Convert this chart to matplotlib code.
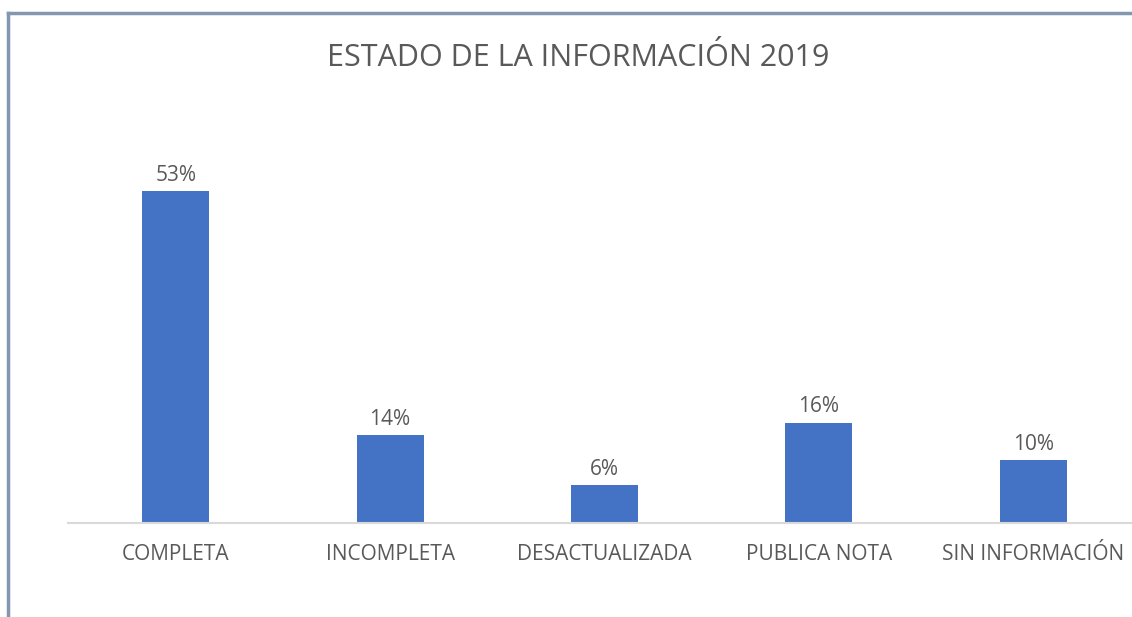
import matplotlib.pyplot as plt
import numpy as np

plt.rcParams['font.family'] = ['Open Sans', 'DejaVu Sans']

categorias = ['COMPLETA', 'INCOMPLETA', 'DESACTUALIZADA', 'PUBLICA NOTA', 'SIN INFORMACIÓN']
porcentajes = [53, 14, 6, 16, 10]
etiquetas = ['53%', '14%', '6%', '16%', '10%']

azul = '#4472C4'
gris_texto = '#595959'

fig = plt.figure(figsize=(11.32, 6.17), dpi=100)

# marco del grafico (solo se ve arriba e izquierda)
fig.add_artist(plt.Line2D([8 / 1132, 8 / 1132], [0, 1 - 13 / 617], color='#8497B0', lw=2.5))
fig.add_artist(plt.Line2D([8 / 1132, 1], [1 - 13 / 617, 1 - 13 / 617], color='#8497B0', lw=2.5))

ax = fig.add_axes([68.5 / 1132, 94 / 617, 1072 / 1132, 375.6 / 617])
x = np.arange(len(categorias))
ax.bar(x, porcentajes, width=0.312, color=azul, zorder=2)
ax.set_xlim(-0.5, len(categorias) - 0.5)
ax.set_ylim(0, 60)

for xi, v, t in zip(x, porcentajes, etiquetas):
    ax.annotate(t, (xi, v), xytext=(0, 4), textcoords='offset points',
                ha='center', va='bottom', fontsize=15, color=gris_texto)

ax.set_xticks(x)
ax.set_xticklabels(categorias, fontsize=15, color=gris_texto)
ax.tick_params(axis='x', length=0, pad=15)
ax.set_yticks([])
for s in ['top', 'right', 'left']:
    ax.spines[s].set_visible(False)
ax.spines['bottom'].set_color('#D9D9D9')
ax.spines['bottom'].set_linewidth(1.5)

fig.text(578 / 1132, 1 - 58 / 617, 'ESTADO DE LA INFORMACIÓN 2019', ha='center', va='center',
         fontsize=22, color=gris_texto)

fig.savefig('out.png', dpi=100)
